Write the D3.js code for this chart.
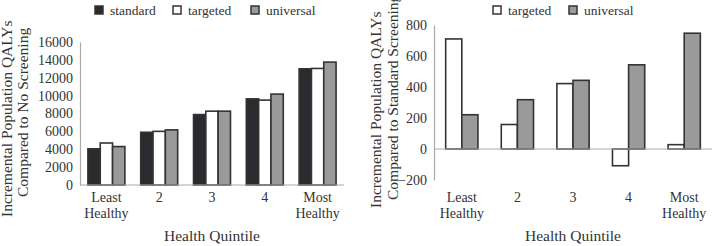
<!DOCTYPE html>
<html>
<head>
<meta charset="utf-8">
<script src="https://cdnjs.cloudflare.com/ajax/libs/d3/7.8.5/d3.min.js"></script>
<style>
  body { margin: 0; background: #fff; }
  svg text { font-family: "Liberation Serif", "Times New Roman", serif; fill: #333; }
</style>
</head>
<body>
<div id="canvas"></div>
<script>
// data
var quintiles = ['Least Healthy', '2', '3', '4', 'Most Healthy'];
var standard = [4050, 5900, 7880, 9640, 13000];
var targeted = [4700, 6000, 8260, 9500, 13040];
var universal = [4300, 6170, 8260, 10170, 13750];

var targetedVsStd = [710, 158, 422, -108, 28];
var universalVsStd = [221, 318, 443, 543, 747];

var leftTicks = [0, 2000, 4000, 6000, 8000, 10000, 12000, 14000, 16000];
var rightTicks = [-200, 0, 200, 400, 600, 800];

var fills = { standard: '#2b2b2f', targeted: '#ffffff', universal: '#9a9a9a' };
var serif = '"Liberation Serif", "Times New Roman", serif';

var svg = d3.select('#canvas').append('svg')
    .attr('width', 712)
    .attr('height', 246);

function drawPanel(opt) {
    var g = svg.append('g');

    var x = d3.scaleBand().domain(quintiles)
        .range([opt.x0, opt.x1])
        .paddingInner(opt.pad).paddingOuter(opt.pad / 2);
    var xs = d3.scaleBand().domain(opt.series.map(function(s){ return s.name; }))
        .range([0, x.bandwidth()]);
    var y = d3.scaleLinear().domain(opt.domain).range([opt.y0, opt.y1]);

    // y axis
    var ya = g.append('g').attr('transform', 'translate(' + opt.x0 + ',0)')
        .call(d3.axisLeft(y).tickValues(opt.ticks).tickFormat(d3.format('d'))
            .tickSize(0).tickPadding(7));
    ya.attr('font-family', serif).attr('font-size', 14);
    ya.select('.domain').attr('stroke', '#aaa').attr('stroke-width', 1.2);
    ya.selectAll('text')
        .style('font-family', serif)
        .style('font-size', '14px')
        .attr('fill', '#333');

    // bars
    opt.series.forEach(function(s) {
        g.selectAll('.bar-' + s.name)
            .data(s.values)
            .enter().append('rect')
            .attr('x', function(d, i){ return x(quintiles[i]) + xs(s.name); })
            .attr('y', function(d){ return y(Math.max(0, d)); })
            .attr('width', xs.bandwidth())
            .attr('height', function(d){ return Math.abs(y(d) - y(0)); })
            .attr('fill', fills[s.name])
            .attr('stroke', '#333')
            .attr('stroke-width', 1.6);
    });

    // x axis line at zero
    g.append('line')
        .attr('x1', opt.x0).attr('x2', opt.x1)
        .attr('y1', y(0)).attr('y2', y(0))
        .attr('stroke', '#aaa').attr('stroke-width', 1.2);

    // category labels
    quintiles.forEach(function(q) {
        var t = g.append('text')
            .attr('text-anchor', 'middle')
            .style('font-size', '14px');
        q.split(' ').forEach(function(w, k) {
            t.append('tspan')
                .attr('x', x(q) + x.bandwidth() / 2)
                .attr('y', 202 + k * 15.5)
                .text(w);
        });
    });

    // x title
    g.append('text')
        .attr('x', (opt.x0 + opt.x1) / 2).attr('y', 241)
        .attr('text-anchor', 'middle')
        .style('font-size', '15.5px')
        .text('Health Quintile');

    // y title, two lines
    opt.ytitle.forEach(function(line) {
        g.append('text')
            .attr('transform', 'translate(' + line.x + ',' + line.y + ') rotate(-90)')
            .style('font-size', '15.5px')
            .text(line.text);
    });

    // legend
    opt.series.forEach(function(s, i) {
        var lx = opt.legendX + i * opt.legendStep;
        g.append('rect')
            .attr('x', lx).attr('y', 6)
            .attr('width', 8).attr('height', 8)
            .attr('fill', fills[s.name])
            .attr('stroke', '#333').attr('stroke-width', 1.5);
        g.append('text')
            .attr('x', lx + 15).attr('y', 14.5)
            .style('font-size', '13.5px')
            .text(s.name);
    });
}

drawPanel({
    x0: 80, x1: 344, y0: 185, y1: 42,
    domain: [0, 16000], ticks: leftTicks, pad: 0.3,
    series: [
        { name: 'standard', values: standard },
        { name: 'targeted', values: targeted },
        { name: 'universal', values: universal }
    ],
    ytitle: [
        { text: 'Incremental Population QALYs', x: 12, y: 217 },
        { text: 'Compared to No Screening', x: 28, y: 197 }
    ],
    legendX: 95, legendStep: 78
});

drawPanel({
    x0: 434, x1: 712, y0: 180, y1: 25,
    domain: [-200, 800], ticks: rightTicks, pad: 0.42,
    series: [
        { name: 'targeted', values: targetedVsStd },
        { name: 'universal', values: universalVsStd }
    ],
    ytitle: [
        { text: 'Incremental Population QALYs', x: 381, y: 208 },
        { text: 'Compared to Standard Screening', x: 398, y: 200 }
    ],
    legendX: 493, legendStep: 76
});
</script>
</body>
</html>
